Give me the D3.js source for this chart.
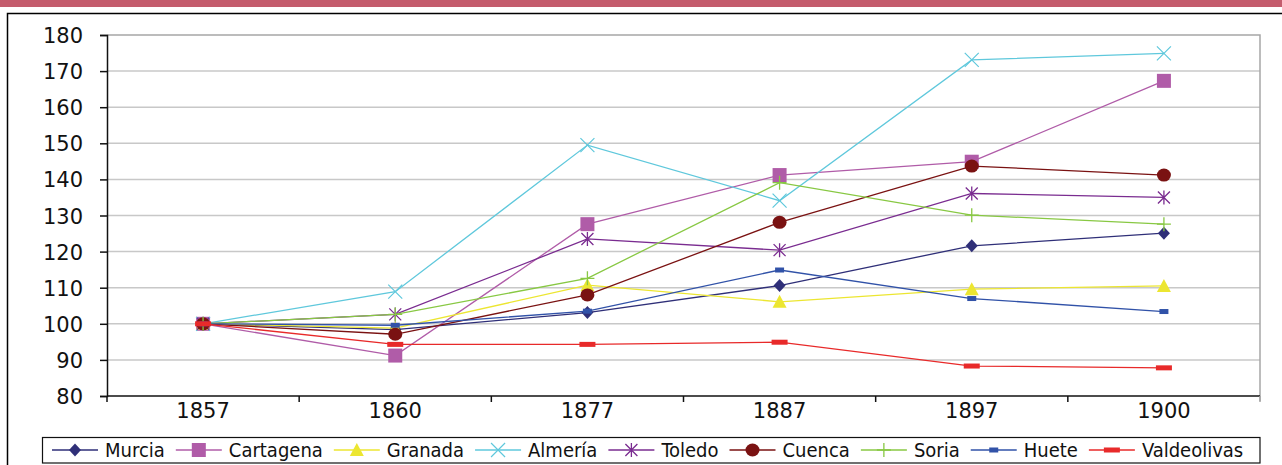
<!DOCTYPE html>
<html>
<head>
<meta charset="utf-8">
<script src="https://cdn.jsdelivr.net/npm/d3@7"></script>
<style>
  body { margin: 0; background: #fff; }
  svg { display: block; }
  .ticklabel { font-family: "DejaVu Sans", sans-serif; font-size: 21px; fill: #111; }
  .legendtext { font-family: "DejaVu Sans Condensed", "DejaVu Sans", sans-serif; font-stretch: condensed; font-size: 20px; fill: #111; }
  .grid line { stroke: #c8c8c8; stroke-width: 1.5; }
</style>
</head>
<body>
<svg id="chart" width="1282" height="465"></svg>
<script>
// categories (years) and index values per town (1857 = 100)
const years = ["1857", "1860", "1877", "1887", "1897", "1900"];
const yTicks = [80, 90, 100, 110, 120, 130, 140, 150, 160, 170, 180];

const murcia      = [100, 98.4, 103.1, 110.6, 121.6, 125.1];
const cartagena   = [100, 91.2, 127.6, 141.2, 144.9, 167.3];
const granada     = [100, 98.8, 110.7, 106.1, 109.6, 110.5];
const almeria     = [100, 108.9, 149.5, 134.1, 173.1, 174.9];
const toledo      = [100, 102.6, 123.5, 120.4, 136.1, 135.0];
const cuenca      = [100, 97.1, 108.0, 128.1, 143.7, 141.2];
const soria       = [100, 102.6, 112.6, 139.1, 130.1, 127.6];
const huete       = [100, 99.6, 103.5, 114.9, 107.0, 103.4];
const valdeolivas = [100, 94.3, 94.3, 94.9, 88.3, 87.8];

const series = [
  {name: "Murcia",      values: murcia,      color: "#2f2f78", marker: "diamond"},
  {name: "Cartagena",   values: cartagena,   color: "#b05ca8", marker: "square"},
  {name: "Granada",     values: granada,     color: "#ece631", marker: "triangle"},
  {name: "Almería",     values: almeria,     color: "#5fc8dc", marker: "x"},
  {name: "Toledo",      values: toledo,      color: "#7a2c90", marker: "star"},
  {name: "Cuenca",      values: cuenca,      color: "#7a1212", marker: "circle"},
  {name: "Soria",       values: soria,       color: "#88c843", marker: "plus"},
  {name: "Huete",       values: huete,       color: "#3152a8", marker: "smallrect"},
  {name: "Valdeolivas", values: valdeolivas, color: "#e82a2a", marker: "widerect"}
];

const svg = d3.select("#chart");
const plot = {left: 107, right: 1260, top: 35, bottom: 396};

const x = d3.scaleBand().domain(years).range([plot.left, plot.right]);
const y = d3.scaleLinear().domain([80, 180]).range([plot.bottom, plot.top]);

// pink strip and outer frame
svg.append("rect").attr("x", 0).attr("y", 0).attr("width", 1282).attr("height", 7).attr("fill", "#c45c6d");
svg.append("rect").attr("x", 7.5).attr("y", 13.5).attr("width", 1300).attr("height", 500)
   .attr("fill", "none").attr("stroke", "#000").attr("stroke-width", 1.5);

// gridlines
svg.append("g").attr("class", "grid")
   .selectAll("line")
   .data(yTicks.filter(d => d > 80 && d < 180))
   .enter().append("line")
   .attr("x1", plot.left).attr("x2", plot.right)
   .attr("y1", d => y(d)).attr("y2", d => y(d));

// plot area border (top and right, gray)
svg.append("path")
   .attr("d", `M${plot.left},${plot.top}H${plot.right}V${plot.bottom + 5}`)
   .attr("fill", "none").attr("stroke", "#a6a6a6").attr("stroke-width", 1.5);

// y axis
const yAxis = svg.append("g")
   .attr("transform", `translate(${plot.left},0)`)
   .call(d3.axisLeft(y).tickValues(yTicks).tickSize(7).tickPadding(17));
yAxis.select(".domain").attr("stroke", "#111").attr("stroke-width", 1.5);
yAxis.selectAll(".tick line").attr("stroke", "#111").attr("stroke-width", 1.5);
yAxis.selectAll(".tick text").attr("class", "ticklabel").attr("font-size", null).attr("font-family", null).attr("dy", "0.36em");

// x axis: ticks between categories
const xAxis = svg.append("g").attr("transform", `translate(0,${plot.bottom})`);
xAxis.append("line").attr("x1", plot.left).attr("x2", plot.right)
   .attr("stroke", "#111").attr("stroke-width", 1.5);
xAxis.selectAll("line.tk")
   .data(years.concat(["end"]))
   .enter().append("line").attr("class", "tk")
   .attr("x1", (d, i) => plot.left + i * x.bandwidth())
   .attr("x2", (d, i) => plot.left + i * x.bandwidth())
   .attr("y1", 0).attr("y2", 6)
   .attr("stroke", (d, i) => i === years.length ? "#a6a6a6" : "#111").attr("stroke-width", 1.5);
xAxis.selectAll("text")
   .data(years)
   .enter().append("text")
   .attr("class", "ticklabel")
   .attr("x", d => x(d) + x.bandwidth() / 2)
   .attr("y", 22)
   .attr("text-anchor", "middle")
   .text(d => d);

// marker drawing
function drawMarker(g, type, color) {
  switch (type) {
    case "diamond":
      g.append("path").attr("d", "M0,-6.5L6,0L0,6.5L-6,0Z").attr("fill", color); break;
    case "square":
      g.append("rect").attr("x", -7).attr("y", -7).attr("width", 14).attr("height", 14).attr("fill", color); break;
    case "triangle":
      g.append("path").attr("d", "M0,-7L7,6L-7,6Z").attr("fill", color); break;
    case "x":
      g.append("path").attr("d", "M-7,-7L7,7M-7,7L7,-7").attr("stroke", color).attr("stroke-width", 1.2).attr("fill", "none"); break;
    case "star":
      g.append("path").attr("d", "M-6,-6L6,6M-6,6L6,-6M0,-7V7").attr("stroke", color).attr("stroke-width", 1.3).attr("fill", "none"); break;
    case "circle":
      g.append("ellipse").attr("rx", 7).attr("ry", 6.5).attr("fill", color); break;
    case "plus":
      g.append("path").attr("d", "M-7,0H7M0,-7V7").attr("stroke", color).attr("stroke-width", 1.3).attr("fill", "none"); break;
    case "smallrect":
      g.append("rect").attr("x", -4.5).attr("y", -2.5).attr("width", 9).attr("height", 5).attr("fill", color); break;
    case "widerect":
      g.append("rect").attr("x", -8).attr("y", -2.5).attr("width", 16).attr("height", 5).attr("fill", color); break;
  }
}

const line = d3.line()
   .x((d, i) => x(years[i]) + x.bandwidth() / 2)
   .y(d => y(d));

series.forEach(s => {
  const g = svg.append("g");
  g.append("path").attr("d", line(s.values))
   .attr("fill", "none").attr("stroke", s.color).attr("stroke-width", 1.3);
  s.values.forEach((v, i) => {
    const m = g.append("g").attr("transform", `translate(${x(years[i]) + x.bandwidth() / 2},${y(v)})`);
    drawMarker(m, s.marker, s.color);
  });
});

// legend
const legend = svg.append("g");
const box = legend.append("rect")
   .attr("x", 42.5).attr("y", 437.5).attr("height", 25.5)
   .attr("fill", "#fff").attr("stroke", "#111").attr("stroke-width", 1.2);
let cx = 52;
series.forEach(s => {
  const item = legend.append("g").attr("transform", `translate(${cx},450)`);
  item.append("line").attr("x1", 0).attr("x2", 46).attr("stroke", s.color).attr("stroke-width", 1.3);
  drawMarker(item.append("g").attr("transform", "translate(23,0)"), s.marker, s.color);
  const t = item.append("text").attr("class", "legendtext").attr("x", 53).attr("y", 7).text(s.name);
  cx += 53 + t.node().getComputedTextLength() + 11;
});
box.attr("width", 1260 - 42.5);
</script>
</body>
</html>
